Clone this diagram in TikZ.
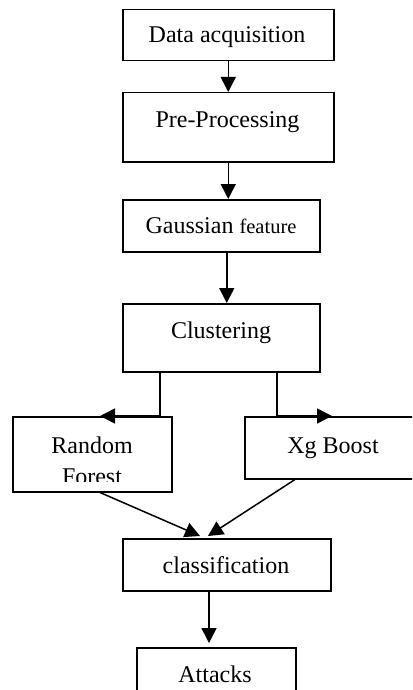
\documentclass[tikz,border=0pt]{standalone}
\usepackage{fontspec}
\setmainfont{Liberation Serif}
\usetikzlibrary{arrows.meta,calc}
\begin{document}
\begin{tikzpicture}[x=1pt,y=-1pt,
 box/.style={draw,line width=1.5pt,inner sep=0pt,anchor=north west},
 lbl/.style={font=\fontsize{24}{28}\selectfont,inner sep=0pt,anchor=base},
 arr/.style={line width=1.5pt,-{Triangle[length=15pt,width=15pt]}}]
\useasboundingbox (0,0) rectangle (412,690);
\clip (0,0) rectangle (412,690);
% boxes
\node[box,minimum width=211pt,minimum height=51pt] (b1) at (122,9) {};
\node[box,minimum width=211pt,minimum height=69pt] (b2) at (122,92) {};
\node[box,minimum width=197pt,minimum height=52pt] (b3) at (122,199) {};
\node[box,minimum width=197pt,minimum height=68pt] (b4) at (122,303) {};
\node[box,minimum width=159pt,minimum height=75pt] (b5) at (12,416) {};
\node[box,minimum width=180pt,minimum height=62pt] (b6) at (244,416) {};
\node[box,minimum width=208pt,minimum height=52pt] (b7) at (122,538) {};
\node[box,minimum width=159pt,minimum height=60pt] (b8) at (136,647) {};
% labels
\node[lbl] (t1) at (227,43) {Data acquisition};
\node[lbl] (t2) at (227.5,128) {Pre-Processing};
\node[lbl] (t3) at (221,233) {Gaussian {\fontsize{20.5}{24}\selectfont feature}};
\node[lbl] (t4) at (221,338) {Clustering};
\node[lbl] (t5) at (92,453) {Random};
\begin{scope}
\clip (12,416) rectangle (171,481.5);
\node[lbl] (t6) at (92,484) {Forest};
\end{scope}
\node[lbl] (t7) at (333,453) {Xg Boost};
\node[lbl] (t8) at (226,573) {classification};
\node[lbl] (t9) at (215,682) {Attacks};
% connectors
\draw[arr] (b1.south) -- (b2.north);
\draw[arr] (b2.south) -- (b2.south |- b3.north);
\draw[arr] ([xshift=5.5pt]b3.south) -- ([xshift=5.5pt]b3.south |- b4.north);
\draw[arr] ([xshift=38pt]b4.south west) |- ([xshift=88pt]b5.north west);
\draw[arr] ([xshift=155pt]b4.south west) |- ([xshift=88pt]b6.north west);
\draw[arr] ([xshift=88pt]b5.south west) -- ([shift={(78,-2)}]b7.north west);
\draw[arr] ([xshift=51pt]b6.south west) -- ([shift={(86,-2)}]b7.north west);
\draw[arr] ([xshift=87pt]b7.south west) -- ([shift={(87,-4)}]b7.south west |- b8.north);
\end{tikzpicture}
\end{document}
